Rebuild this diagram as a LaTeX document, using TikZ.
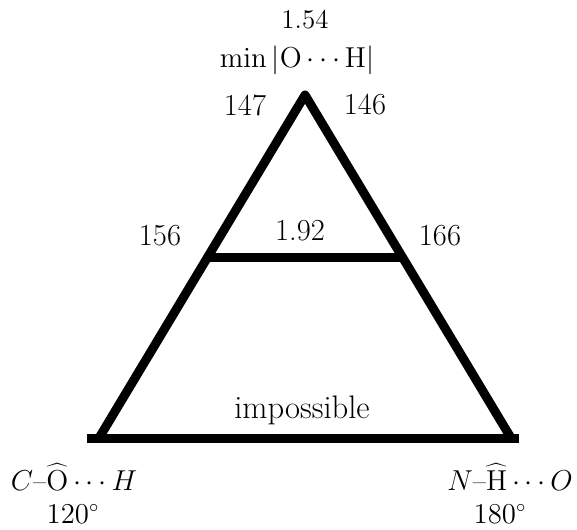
\documentclass[tikz,border=0pt]{standalone}
\usetikzlibrary{calc}

\begin{document}
\begin{tikzpicture}[x=0.5pt, y=-0.5pt,
        big/.style={font=\fontsize{15.3}{18}\selectfont},
        small/.style={font=\fontsize{13.5}{16}\selectfont, inner sep=1pt},
        side/.style={line width=\lw, line cap=butt, line join=round}]
            \def\lw{4.5pt}  % stroke of the triangle
            \def\t{0.475}   % height of the 1.92 bar
            \useasboundingbox (0,0) rectangle (577,529);
            \coordinate (apex) at (305,95);
            \coordinate (lft) at (99,438);
            \coordinate (rgt) at (511,438);
            \coordinate (midl) at ($(apex)!\t!(lft)$);
            \coordinate (midr) at ($(apex)!\t!(rgt)$);
            \draw[side] (lft) -- (apex) -- (rgt);
            \draw[side] ([xshift=-6]lft) -- ([xshift=4]rgt);
            \draw[side] (midl) -- (midr);
            % labels
            \node[small] (dtop) at (305,20) {1.54};
            \node[small] (dmin) at (297,60) {$\min|\mathrm{O}\cdots\mathrm{H}|$};
            \node[big] (a147) at (245,105) {147};
            \node[big] (a146) at (365,105) {146};
            \node[big] (a156) at (160,236) {156};
            \node[big] (d192) at (300,231) {1.92};
            \node[big] (a166) at (440,236) {166};
            \node[big, font=\fontsize{16.3}{19}\selectfont] (imp) at (302,410) {impossible};
            \node[small] (coh) at (74,477) {$C$--$\widehat{\mathrm{O}}\cdots H$};
            \node[small] (d120) at (73,514) {$120^\circ$};
            \node[small] (nho) at (510,477) {$N$--$\widehat{\mathrm{H}}\cdots O$};
            \node[small] (d180) at (500,514) {$180^\circ$};
        \end{tikzpicture}
\end{document}
